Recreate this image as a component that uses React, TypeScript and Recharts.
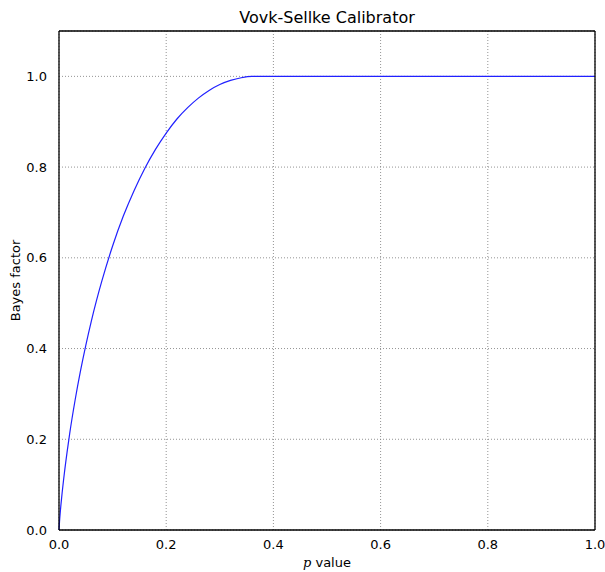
import { CartesianGrid, Line, LineChart, ReferenceLine, XAxis, YAxis } from "recharts";

// p values and the calibrated Bayes factor
const pValues = [
  0, 0.001, 0.0025, 0.005, 0.01, 0.015, 0.02, 0.03, 0.04, 0.05, 0.06, 0.07, 0.08, 0.1, 0.12, 0.14,
  0.16, 0.18, 0.2, 0.22, 0.24, 0.26, 0.28, 0.3, 0.32, 0.34, 0.36, 0.368, 0.4, 0.6, 0.8, 1.0
];
const bayesFactors = [
  0, 0.019, 0.041, 0.072, 0.125, 0.171, 0.213, 0.286, 0.35, 0.407, 0.459, 0.506, 0.549, 0.626, 0.692,
  0.748, 0.797, 0.839, 0.875, 0.906, 0.931, 0.952, 0.969, 0.982, 0.991, 0.997, 1.0, 1.0, 1.0, 1.0,
  1.0, 1.0
];
const xTicks = [0, 0.2, 0.4, 0.6, 0.8, 1.0];
const yTicks = [0, 0.2, 0.4, 0.6, 0.8, 1.0];

const data = pValues.map((p, i) => ({ p, bf: bayesFactors[i] }));

const FONT = "'DejaVu Sans', sans-serif";
const tickStyle = { fontSize: 13, fill: "#000", fontFamily: FONT };

function XLabel({ viewBox }: any) {
  const cx = viewBox.x + viewBox.width / 2;
  return (
    <text x={cx} y={viewBox.y + 37} textAnchor="middle" fontSize={13} fontFamily={FONT} fill="#000">
      <tspan fontStyle="italic" style={{ fontFamily: "DejaVu Serif, serif" }}>p</tspan>
      <tspan> value</tspan>
    </text>
  );
}

function YLabel({ viewBox }: any) {
  const cy = viewBox.y + viewBox.height / 2;
  return (
    <text
      x={20}
      y={cy}
      transform={`rotate(-90 20 ${cy})`}
      textAnchor="middle"
      fontSize={13}
      fontFamily={FONT}
      fill="#000"
    >
      Bayes factor
    </text>
  );
}

export default function App() {
  return (
    <div style={{ position: "absolute", left: 0, top: 0, width: 605, height: 572, background: "#fff" }}>
      <div
        style={{
          position: "absolute",
          left: 59,
          width: 536,
          top: 8,
          textAlign: "center",
          fontFamily: FONT,
          fontSize: 16,
          color: "#000"
        }}
      >
        Vovk-Sellke Calibrator
      </div>
      <LineChart width={605} height={572} data={data} margin={{ top: 31, right: 10, bottom: 0, left: 0 }}>
        <CartesianGrid stroke="#777" strokeDasharray="1 2" strokeWidth={0.8} />
        <XAxis
          dataKey="p"
          type="number"
          domain={[0, 1]}
          ticks={xTicks}
          tickFormatter={(v: number) => v.toFixed(1)}
          tick={tickStyle}
          tickLine={false}
          axisLine={{ stroke: "#000", strokeWidth: 1.3 }}
          height={42}
          tickMargin={4}
          label={<XLabel />}
        />
        <YAxis
          type="number"
          domain={[0, 1.1]}
          ticks={yTicks}
          tickFormatter={(v: number) => v.toFixed(1)}
          tick={tickStyle}
          tickLine={false}
          axisLine={{ stroke: "#000", strokeWidth: 1.3 }}
          width={59}
          tickMargin={6}
          label={<YLabel />}
        />
        <Line
          type="monotone"
          dataKey="bf"
          stroke="#2020ff"
          strokeWidth={1.2}
          dot={false}
          isAnimationActive={false}
        />
        <ReferenceLine y={1.1} stroke="#000" strokeWidth={1.3} />
        <ReferenceLine x={1} stroke="#000" strokeWidth={1.3} />
      </LineChart>
    </div>
  );
}
